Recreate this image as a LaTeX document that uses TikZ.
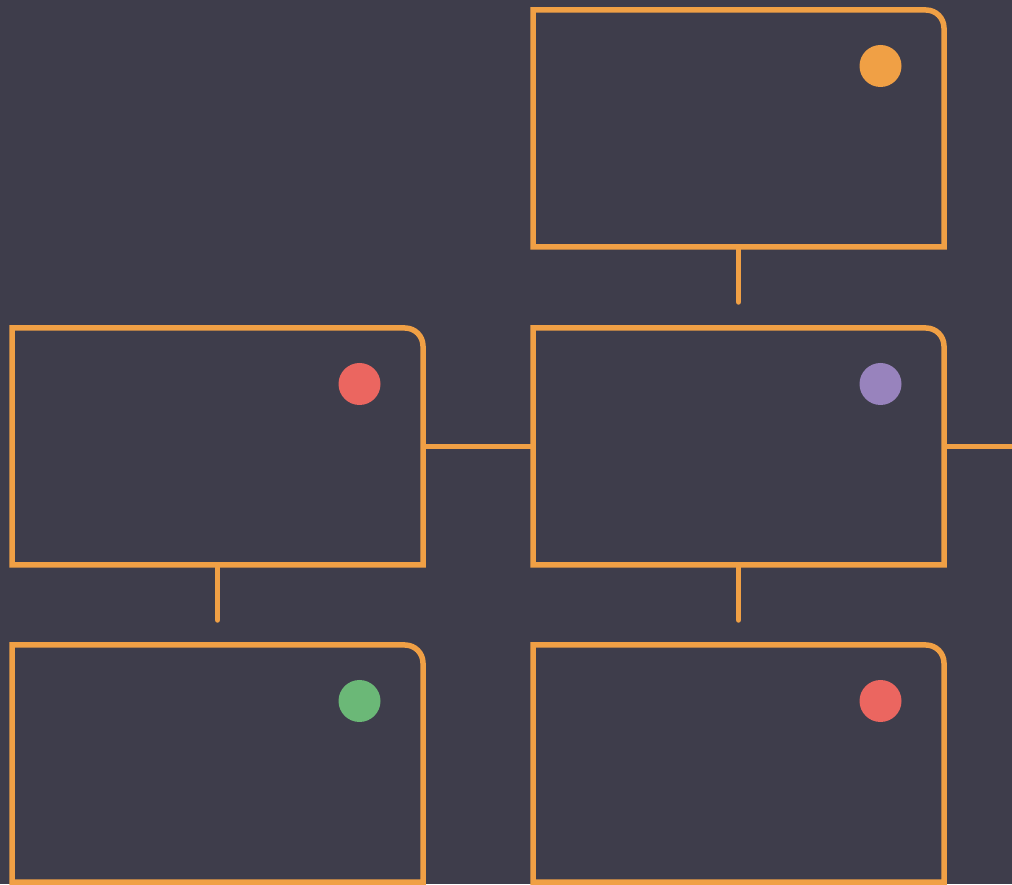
\documentclass[tikz,border=0pt]{standalone}
\definecolor{bgc}{HTML}{3E3D4B}
\definecolor{orangec}{HTML}{F0A045}
\definecolor{redc}{HTML}{EB6660}
\definecolor{purplec}{HTML}{9883BD}
\definecolor{greenc}{HTML}{6BB877}
\tikzset{
  card/.style={rectangle, draw=none, inner sep=0pt, outer sep=0pt, minimum width=411pt, minimum height=237pt},
  edgeline/.style={draw=orangec, line width=5.5pt},
  link/.style={draw=orangec, line width=5.5pt, line cap=round},
  dot/.style={circle, fill=#1, draw=none, minimum size=42pt, inner sep=0pt}
}
\newcommand{\cardoutline}[1]{%
  \draw[edgeline, line join=miter] (#1.south west) -- (#1.north west) -- ([xshift=-18pt]#1.north east) arc[start angle=90, end angle=0, radius=18pt] -- (#1.south east) -- cycle;}
\begin{document}
\begin{tikzpicture}[x=1pt,y=1pt]
\fill[bgc] (0,0) rectangle (1012,884);
\useasboundingbox (0,0) rectangle (1012,884);
\node[card] (c1) at (738.5,755.5) {};
\node[card] (c2) at (738.5,437.5) {};
\node[card] (c3) at (217.5,437.5) {};
\node[card] (c4) at (217.5,120.5) {};
\node[card] (c5) at (738.5,120.5) {};
\foreach \c in {c1,c2,c3,c4,c5} {\cardoutline{\c}}
\node[dot=orangec] (d1) at ([xshift=-63.5pt,yshift=-56pt]c1.north east) {};
\node[dot=purplec] (d2) at ([xshift=-63.5pt,yshift=-56pt]c2.north east) {};
\node[dot=redc] (d3) at ([xshift=-63.5pt,yshift=-56pt]c3.north east) {};
\node[dot=greenc] (d4) at ([xshift=-63.5pt,yshift=-56pt]c4.north east) {};
\node[dot=redc] (d5) at ([xshift=-63.5pt,yshift=-56pt]c5.north east) {};
\coordinate (e1) at ([yshift=-55pt]c1.south);
\coordinate (e2) at ([yshift=-55pt]c2.south);
\coordinate (e3) at ([yshift=-55pt]c3.south);
\coordinate (eR) at (1015,437.5);
\draw[link] (c1.south) -- (e1);
\draw[link] (c2.south) -- (e2);
\draw[link] (c3.south) -- (e3);
\draw[edgeline] (c3.east) -- (c2.west);
\draw[edgeline] (c2.east) -- (eR);
\end{tikzpicture}
\end{document}
